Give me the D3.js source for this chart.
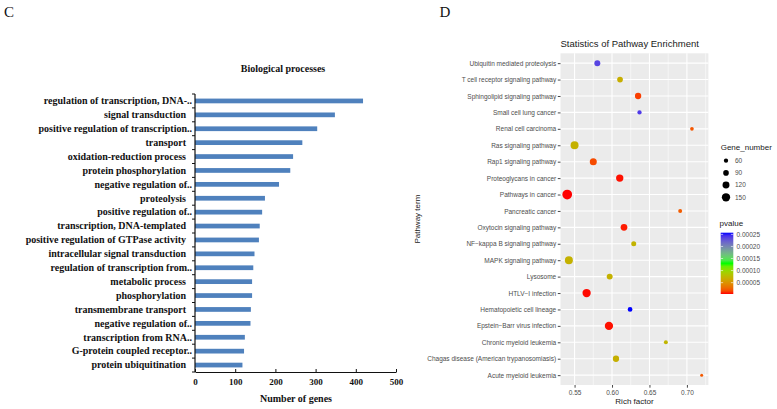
<!DOCTYPE html>
<html><head><meta charset="utf-8">
<script src="https://cdn.jsdelivr.net/npm/d3@7/dist/d3.min.js"></script>
<style>body{margin:0;background:#fff}svg{display:block}</style>
</head><body>
<svg id="chart" width="777" height="409"></svg>
<script>
// ---------- Panel C data ----------
const bpCategories = [
  "regulation of transcription, DNA-..",
  "signal transduction",
  "positive regulation of transcription..",
  "transport",
  "oxidation-reduction process",
  "protein phosphorylation",
  "negative regulation of..",
  "proteolysis",
  "positive regulation of..",
  "transcription, DNA-templated",
  "positive regulation of GTPase activity",
  "intracellular signal transduction",
  "regulation of transcription from..",
  "metabolic process",
  "phosphorylation",
  "transmembrane transport",
  "negative regulation of..",
  "transcription from RNA..",
  "G-protein coupled receptor..",
  "protein ubiquitination"
];
const bpValues = [418, 348, 304, 267, 244, 237, 209, 174, 167, 161, 159, 148, 145, 142, 142, 139, 138, 124, 122, 118];
const bpTicks = [0, 100, 200, 300, 400, 500];

// ---------- Panel D data ----------
const pathwayTerms = [
  "Ubiquitin mediated proteolysis",
  "T cell receptor signaling pathway",
  "Sphingolipid signaling pathway",
  "Small cell lung cancer",
  "Renal cell carcinoma",
  "Ras signaling pathway",
  "Rap1 signaling pathway",
  "Proteoglycans in cancer",
  "Pathways in cancer",
  "Pancreatic cancer",
  "Oxytocin signaling pathway",
  "NF\u2212kappa B signaling pathway",
  "MAPK signaling pathway",
  "Lysosome",
  "HTLV\u2212I infection",
  "Hematopoietic cell lineage",
  "Epstein\u2212Barr virus infection",
  "Chronic myeloid leukemia",
  "Chagas disease (American trypanosomiasis)",
  "Acute myeloid leukemia"
];
const richFactor = [0.5804, 0.6107, 0.6348, 0.6367, 0.7067, 0.5500, 0.5750, 0.6103, 0.5402, 0.6910,
                    0.6160, 0.6290, 0.5424, 0.5969, 0.5661, 0.6241, 0.5959, 0.6719, 0.6053, 0.7197];
const geneNumber = [98, 92, 105, 60, 46, 143, 121, 128, 182, 53,
                    114, 76, 143, 98, 150, 69, 150, 53, 105, 31];
const pValue = [0.000235, 0.000068, 0.000012, 0.000240, 0.000020, 0.000070, 0.000016, 0.000004, 0.000003, 0.000022,
                0.000005, 0.000072, 0.000070, 0.000070, 0.0000035, 0.000257, 0.000004, 0.000073, 0.000069, 0.000021];
const richTicks = [0.55, 0.60, 0.65, 0.70];
const sizeBreaks = [60, 90, 120, 150];
const pTicks = [0.00005, 0.00010, 0.00015, 0.00020, 0.00025];

const svg = d3.select("#chart");
const serif = "'Liberation Serif','Times New Roman',serif";
const sans = "'Liberation Sans',Arial,Helvetica,sans-serif";

// =================== Panel C ===================
svg.append("text").attr("x", 4).attr("y", 16.5).attr("font-family", serif)
  .attr("font-size", 15).attr("fill", "#111").text("C");

svg.append("text").attr("x", 283).attr("y", 71.5).attr("text-anchor", "middle")
  .attr("font-family", serif).attr("font-weight", "bold").attr("font-size", 10)
  .attr("fill", "#111").text("Biological processes");

const xC = d3.scaleLinear().domain([0, 500]).range([195, 396]);
const yC = d3.scaleBand().domain(d3.range(bpCategories.length)).range([94, 372])
  .paddingInner(0.66).paddingOuter(0.33);

const gC = svg.append("g");
gC.selectAll("rect.bar").data(bpValues).join("rect").attr("class", "bar")
  .attr("x", xC(0)).attr("y", (d, i) => yC(i))
  .attr("width", d => xC(d) - xC(0)).attr("height", yC.bandwidth())
  .attr("fill", "#4f81bd");

// y axis line + boundary ticks
const stepC = yC.step();
gC.append("line").attr("x1", 195).attr("x2", 195).attr("y1", 94).attr("y2", 372)
  .attr("stroke", "#111").attr("stroke-width", 1.2);
gC.selectAll("line.ytick").data(d3.range(bpCategories.length + 1)).join("line").attr("class", "ytick")
  .attr("x1", 192).attr("x2", 195)
  .attr("y1", i => 94 + i * stepC).attr("y2", i => 94 + i * stepC)
  .attr("stroke", "#111").attr("stroke-width", 1);
gC.selectAll("text.ylab").data(bpCategories).join("text").attr("class", "ylab")
  .attr("x", d => d.endsWith("..") ? 192 : 186)
  .attr("y", (d, i) => yC(i) + yC.bandwidth() / 2).attr("dy", "0.33em")
  .attr("text-anchor", "end").attr("font-family", serif).attr("font-weight", "bold")
  .attr("font-size", 10).attr("fill", "#111").text(d => d);

// x axis
const xAxisC = gC.append("g").attr("transform", "translate(0,372)")
  .call(d3.axisBottom(xC).tickValues(bpTicks).tickSizeInner(-3).tickSizeOuter(0).tickPadding(7));
xAxisC.select(".domain").attr("stroke", "#111").attr("stroke-width", 1.2);
xAxisC.selectAll(".tick line").attr("stroke", "#111");
xAxisC.selectAll("text").attr("font-family", serif).attr("font-weight", "bold")
  .attr("font-size", 9).attr("fill", "#111");

svg.append("text").attr("x", 296).attr("y", 401.5).attr("text-anchor", "middle")
  .attr("font-family", serif).attr("font-weight", "bold").attr("font-size", 10)
  .attr("fill", "#111").text("Number of genes");

// =================== Panel D ===================
svg.append("text").attr("x", 439.5).attr("y", 16.5).attr("font-family", serif)
  .attr("font-size", 15).attr("fill", "#111").text("D");

const pL = 560.5, pR = 708.4, pT = 53.3, pB = 385;
const ext = d3.extent(richFactor);
const pad = (ext[1] - ext[0]) * 0.05;
const xD = d3.scaleLinear().domain([ext[0] - pad, ext[1] + pad]).range([pL, pR]);
const yD = d3.scalePoint().domain(pathwayTerms).range([pT, pB]).padding(0.6);

const pExt = d3.extent(pValue);
const colorD = d3.scaleLinear()
  .domain([pExt[0], (pExt[0] + pExt[1]) / 2, pExt[1]])
  .range(["#ff0000", "#00ff00", "#0000ff"])
  .interpolate(d3.interpolateLab);
const rD = d3.scaleLinear().domain([60, 150]).range([2.15, 4.15]);

const gD = svg.append("g");
gD.append("rect").attr("x", pL).attr("y", pT).attr("width", pR - pL).attr("height", pB - pT)
  .attr("fill", "#ebebeb");

const dom = xD.domain();
const minorX = [richTicks[0] - 0.025].concat(richTicks.map(t => t + 0.025))
  .filter(v => v >= dom[0] && v <= dom[1]);
gD.selectAll("line.minx").data(minorX).join("line").attr("class", "minx")
  .attr("x1", d => xD(d)).attr("x2", d => xD(d)).attr("y1", pT).attr("y2", pB)
  .attr("stroke", "#fff").attr("stroke-width", 0.55);
gD.selectAll("line.majx").data(richTicks).join("line").attr("class", "majx")
  .attr("x1", d => xD(d)).attr("x2", d => xD(d)).attr("y1", pT).attr("y2", pB)
  .attr("stroke", "#fff").attr("stroke-width", 1.1);
gD.selectAll("line.majy").data(pathwayTerms).join("line").attr("class", "majy")
  .attr("x1", pL).attr("x2", pR).attr("y1", d => yD(d)).attr("y2", d => yD(d))
  .attr("stroke", "#fff").attr("stroke-width", 1.1);

gD.selectAll("circle.pt").data(pathwayTerms).join("circle").attr("class", "pt")
  .attr("cx", (d, i) => xD(richFactor[i])).attr("cy", d => yD(d))
  .attr("r", (d, i) => rD(geneNumber[i]))
  .attr("fill", (d, i) => colorD(pValue[i]));

// axes
const yAxisD = gD.append("g").attr("transform", `translate(${pL},0)`)
  .call(d3.axisLeft(yD).tickSizeInner(2.7).tickSizeOuter(0).tickPadding(1.6));
yAxisD.select(".domain").remove();
yAxisD.selectAll(".tick line").attr("stroke", "#333").attr("stroke-width", 0.9);
yAxisD.selectAll("text").attr("font-family", sans).attr("font-size", 6.5).attr("fill", "#4d4d4d");

const xAxisD = gD.append("g").attr("transform", `translate(0,${pB})`)
  .call(d3.axisBottom(xD).tickValues(richTicks).tickFormat(d3.format(".2f"))
    .tickSizeInner(2.7).tickSizeOuter(0).tickPadding(2.5));
xAxisD.select(".domain").remove();
xAxisD.selectAll(".tick line").attr("stroke", "#333").attr("stroke-width", 0.9);
xAxisD.selectAll("text").attr("font-family", sans).attr("font-size", 6.5).attr("fill", "#4d4d4d");

svg.append("text").attr("x", pL).attr("y", 46.7).attr("font-family", sans)
  .attr("font-size", 9.5).attr("fill", "#1a1a1a").text("Statistics of Pathway Enrichment");
svg.append("text").attr("x", (pL + pR) / 2).attr("y", 403.6).attr("text-anchor", "middle")
  .attr("font-family", sans).attr("font-size", 8).attr("fill", "#1a1a1a").text("Rich factor");
svg.append("text").attr("transform", `translate(419.5,${(pT + pB) / 2}) rotate(-90)`)
  .attr("text-anchor", "middle").attr("font-family", sans).attr("font-size", 8)
  .attr("fill", "#1a1a1a").text("Pathway term");

// size legend
const lg = svg.append("g");
lg.append("text").attr("x", 720.7).attr("y", 150.3).attr("font-family", sans).attr("font-size", 8)
  .attr("fill", "#1a1a1a").text("Gene_number");
const sizeY = d3.scalePoint().domain(sizeBreaks).range([160.7, 197.3]);
lg.selectAll("circle.sk").data(sizeBreaks).join("circle").attr("class", "sk")
  .attr("cx", 726).attr("cy", d => sizeY(d)).attr("r", d => rD(d)).attr("fill", "#000");
lg.selectAll("text.sl").data(sizeBreaks).join("text").attr("class", "sl")
  .attr("x", 735).attr("y", d => sizeY(d)).attr("dy", "0.35em")
  .attr("font-family", sans).attr("font-size", 6.5).attr("fill", "#4d4d4d").text(d => d);

// colour legend
const cbX = 720.7, cbW = 12.6, cbTop = 232.7, cbBot = 294;
lg.append("text").attr("x", 719.5).attr("y", 226).attr("font-family", sans).attr("font-size", 8)
  .attr("fill", "#1a1a1a").text("pvalue");
const grad = svg.append("defs").append("linearGradient").attr("id", "pgrad")
  .attr("x1", 0).attr("y1", 1).attr("x2", 0).attr("y2", 0);
d3.range(0, 1.0001, 0.05).forEach(t => {
  grad.append("stop").attr("offset", t)
    .attr("stop-color", colorD(pExt[0] + t * (pExt[1] - pExt[0])));
});
lg.append("rect").attr("x", cbX).attr("y", cbTop).attr("width", cbW).attr("height", cbBot - cbTop)
  .attr("fill", "url(#pgrad)");
const cbScale = d3.scaleLinear().domain(pExt).range([cbBot, cbTop]);
pTicks.forEach(v => {
  const yy = cbScale(v);
  lg.append("line").attr("x1", cbX).attr("x2", cbX + 2.4).attr("y1", yy).attr("y2", yy)
    .attr("stroke", "#fff").attr("stroke-width", 0.6);
  lg.append("line").attr("x1", cbX + cbW - 2.4).attr("x2", cbX + cbW).attr("y1", yy).attr("y2", yy)
    .attr("stroke", "#fff").attr("stroke-width", 0.6);
});
lg.selectAll("text.cl").data(pTicks).join("text").attr("class", "cl")
  .attr("x", 736.5).attr("y", d => cbScale(d)).attr("dy", "0.35em")
  .attr("font-family", sans).attr("font-size", 6.5).attr("fill", "#4d4d4d")
  .text(d => d3.format(".5f")(d));
</script>
</body></html>
